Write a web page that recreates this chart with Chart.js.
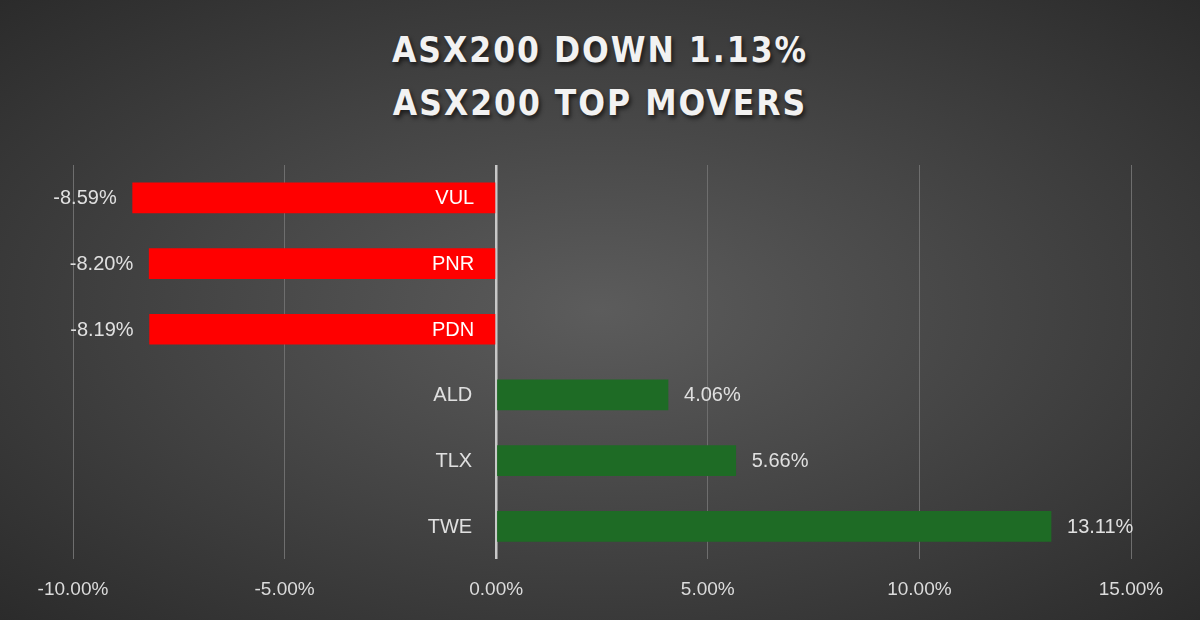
<!DOCTYPE html>
<html><head><meta charset="utf-8">
<script src="https://cdn.jsdelivr.net/npm/chart.js@4"></script>
<style>
html,body{margin:0;padding:0;width:1200px;height:620px;overflow:hidden;}
body{background:radial-gradient(ellipse at 50% 50%,#5c5c5c 0%,#464646 45%,#2b2b2b 100%);position:relative;font-family:"DejaVu Sans",sans-serif;}
#t{position:absolute;left:0;top:24px;width:1200px;text-align:center;color:#f2f2f2;font:bold 35px "DejaVu Sans Condensed","DejaVu Sans",sans-serif;letter-spacing:2px;line-height:53px;text-shadow:2px 3px 4px rgba(0,0,0,0.6);}
canvas{position:absolute;left:0;top:0;}
</style></head><body>
<div id="t">ASX200 DOWN 1.13%<br>ASX200 TOP MOVERS</div>
<canvas id="c" width="1200" height="620"></canvas>
<script>
const categories=["VUL","PNR","PDN","ALD","TLX","TWE"];
const values=[-8.59,-8.20,-8.19,4.06,5.66,13.11];
const tickValues=[-10,-5,0,5,10,15];
const labelPlugin={id:'lbl',afterDatasetsDraw(chart){
  const ctx=chart.ctx,x=chart.scales.x,y=chart.scales.y;
  ctx.save();ctx.font='20px "Liberation Sans",Arial,sans-serif';ctx.textBaseline='middle';
  values.forEach((v,i)=>{
    const yy=y.getPixelForValue(i)+1,x0=x.getPixelForValue(0),xv=x.getPixelForValue(v);
    const txt=v.toFixed(2)+'%';
    if(v<0){
      ctx.fillStyle='#ffffff';ctx.textAlign='right';ctx.fillText(categories[i],x0-22,yy);
      ctx.fillStyle='#e0e0e0';ctx.fillText(txt,xv-16,yy);
    }else{
      ctx.fillStyle='#e0e0e0';ctx.textAlign='right';ctx.fillText(categories[i],x0-24,yy);
      ctx.textAlign='left';ctx.fillText(txt,xv+16,yy);
    }
  });
  ctx.restore();
}};
new Chart(document.getElementById('c'),{
  type:'bar',
  data:{labels:categories,datasets:[{data:values,barThickness:30,
    backgroundColor:values.map(v=>v<0?'#ff0000':'#1e6b25')}]},
  options:{indexAxis:'y',responsive:false,animation:false,
    layout:{padding:{left:73,right:69,top:165,bottom:0}},
    plugins:{legend:{display:false},tooltip:{enabled:false},title:{display:false}},
    scales:{
      x:{min:-10,max:15,afterBuildTicks(s){s.ticks=tickValues.map(v=>({value:v}));},
        grid:{drawTicks:false,color:c=>c.tick&&c.tick.value===0?'#c8c8c8':'#6e6e6e',lineWidth:c=>c.tick&&c.tick.value===0?2.5:1},
        border:{display:false},
        ticks:{padding:19,color:'#dcdcdc',font:{size:19,family:'"Liberation Sans",Arial,sans-serif'},callback:v=>Number(v).toFixed(2)+'%'}},
      y:{display:false,offset:true,grid:{display:false}}
    }},
  plugins:[labelPlugin]
});
</script></body></html>
